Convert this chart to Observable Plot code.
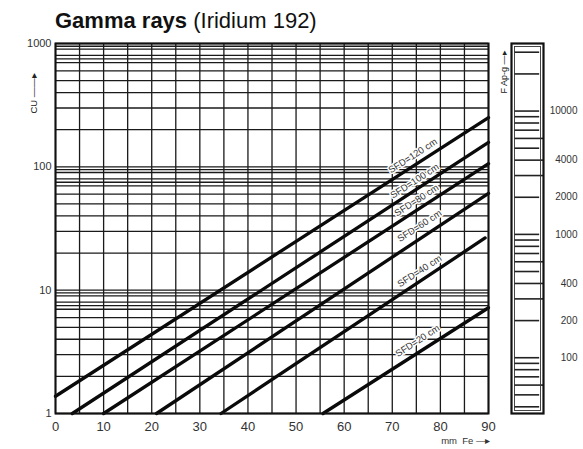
<!DOCTYPE html>
<html><head><meta charset="utf-8">
<script src="https://cdn.jsdelivr.net/npm/d3@7"></script>
<script src="https://cdn.jsdelivr.net/npm/@observablehq/plot@0.6"></script>
<style>
body{margin:0;background:#fff;font-family:"Liberation Sans",Arial,sans-serif;}
#wrap{position:relative;width:583px;height:449px;overflow:hidden;background:#fff;}
#title{position:absolute;left:55px;top:10px;font-size:22px;color:#111;white-space:nowrap;line-height:1;}
#main{position:absolute;left:0;top:30px;}
#side{position:absolute;left:490px;top:30px;}
</style></head><body>
<div id="wrap">
  <div id="title"><b>Gamma rays</b> (Iridium 192)</div>
  <div id="main"></div>
  <div id="side"></div>
</div>
<script>
// ---- data ----
const seriesLabels = ["SFD=120 cm", "SFD=100 cm", "SFD=80 cm", "SFD=60 cm", "SFD=40 cm", "SFD=20 cm"];
const startMm = [0, 3.5, 10, 21, 34.4, 55.6];
const startCU = [1.38, 1, 1, 1, 1, 1];
const endMm   = [90, 90, 90, 90, 89.3, 90];
const endCU   = [251, 158, 106, 61, 26.5, 7.2];
const labelMm = [74.6, 75, 75.4, 76, 76, 75.6];
const labelCU = [117, 73, 51, 31.6, 13.6, 3.7];

const xTicks = [0, 10, 20, 30, 40, 50, 60, 70, 80, 90];
const xGrid  = [0, 5, 10, 15, 20, 25, 30, 35, 40, 45, 50, 55, 60, 65, 70, 75, 80, 85, 90];
const yTicks = [1, 10, 100, 1000];
const yGridMantissa = [1, 2, 3, 4, 5, 6, 7, 7.5, 8, 9, 9.5];
const yDecades = [1, 10, 100];

const fLabels = [10000, 4000, 2000, 1000, 400, 200, 100];
const fTicksShort = [30000, 20000, 10000, 9000, 8000, 7000, 5000, 2000, 1000, 900, 800, 700, 500, 200, 100, 90, 80, 70, 50, 40];
const fTicksLong  = [6000, 4000, 3000, 600, 400, 300, 60];

// ---- build tables ----
const lineRows = seriesLabels.flatMap((s, i) => [
  {s, mm: startMm[i], cu: startCU[i]},
  {s, mm: endMm[i], cu: endCU[i]}
]);
const labelRows = seriesLabels.map((s, i) => ({s, mm: labelMm[i], cu: labelCU[i]}));
const yGrid = yDecades.flatMap(d => yGridMantissa.map(m => m * d)).concat([1000]);

const font = "'Liberation Sans', Arial, sans-serif";

const main = Plot.plot({
  width: 505, height: 419,
  marginTop: 13, marginLeft: 55, marginRight: 17, marginBottom: 36,
  x: {domain: [0, 90]},
  y: {type: "log", domain: [1, 1000]},
  style: {fontFamily: font, background: "transparent", color: "#222"},
  marks: [
    Plot.ruleX(xGrid, {stroke: "#1a1a1a", strokeWidth: 1.3}),
    Plot.ruleY(yGrid, {stroke: "#1a1a1a", strokeWidth: 1.3}),
    Plot.line(lineRows, {x: "mm", y: "cu", z: "s", stroke: "#0a0a0a", strokeWidth: 3.3}),
    Plot.text(labelRows, {x: "mm", y: "cu", text: "s", rotate: -33, lineAnchor: "bottom", fontSize: 9.5, fill: "#333", stroke: "white", strokeWidth: 3}),
    Plot.frame({stroke: "#111", strokeWidth: 2}),
    Plot.axisX(xTicks, {tickSize: 0, tickPadding: 8, fontSize: 13, label: null, fill: "#333"}),
    Plot.axisY(yTicks, {tickSize: 0, tickPadding: 4, fontSize: 11, label: null, tickFormat: d => String(d), fill: "#333"}),
    Plot.text(["mm  Fe \u2014\u25B8"], {frameAnchor: "bottom-right", dy: 30, dx: 2, textAnchor: "end", fontSize: 9.5, fill: "#333"}),
    Plot.text(["CU \u2014\u2014\u25B8"], {frameAnchor: "top-left", dx: -25, dy: 70, rotate: -90, textAnchor: "start", fontSize: 9.5, fill: "#222"})
  ]
});
document.getElementById("main").appendChild(main);

const side = Plot.plot({
  width: 93, height: 419,
  marginTop: 13, marginLeft: 21, marginRight: 40, marginBottom: 36,
  x: {domain: [0, 1], axis: null},
  y: {type: "log", domain: [35.3, 35300], axis: null},
  style: {fontFamily: font, background: "transparent", color: "#222"},
  marks: [
    Plot.ruleY(fTicksShort, {x1: 0.1, x2: 0.88, stroke: "#222", strokeWidth: 1.6}),
    Plot.ruleY(fTicksLong, {x1: 0.1, x2: 1, stroke: "#222", strokeWidth: 1.6}),
    Plot.frame({stroke: "#111", strokeWidth: 2.2}),
    Plot.frame({stroke: "#333", strokeWidth: 0.9, inset: 3}),
    Plot.text(fLabels, {x: 1, y: d => d, text: d => String(d), dx: 34, textAnchor: "end", fontSize: 10, fill: "#333"}),
    Plot.text(["F Ap-g \u2014\u25B8"], {frameAnchor: "top-left", dx: -11, dy: 50, rotate: -90, textAnchor: "start", fontSize: 9, fill: "#222"})
  ]
});
document.getElementById("side").appendChild(side);
</script>
</body></html>
